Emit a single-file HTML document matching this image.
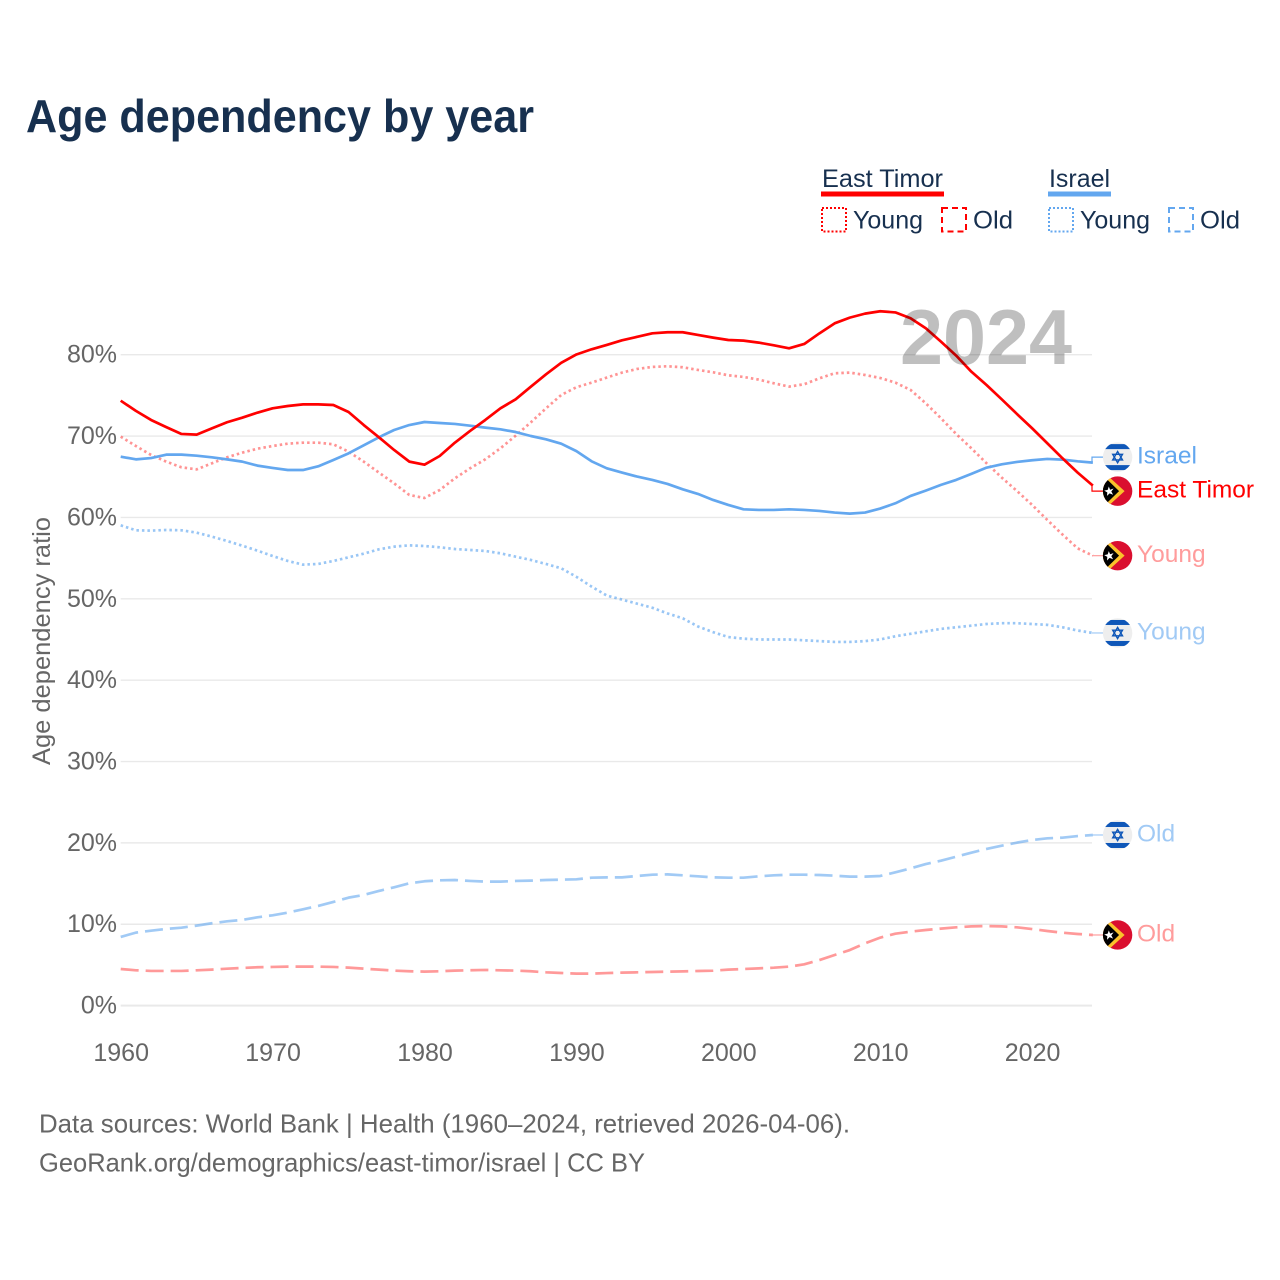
<!DOCTYPE html>
<html lang="en">
<head>
<meta charset="utf-8">
<title>Age dependency by year</title>
<style>
html,body{margin:0;padding:0;background:#fff;}
svg{display:block;font-family:"Liberation Sans",Arial,sans-serif;}
</style>
</head>
<body>
<svg id="chart" xmlns="http://www.w3.org/2000/svg" width="1280" height="1280" viewBox="0 0 1280 1280">
  <defs>
    <clipPath id="flag-clip"><circle cx="0" cy="0" r="14.7"/></clipPath>
    <g id="flag-israel" clip-path="url(#flag-clip)">
      <rect x="-15" y="-15" width="30" height="30" fill="#eeeeee"/>
      <rect x="-15" y="-13" width="30" height="5" fill="#0f57b8"/>
      <rect x="-15" y="8" width="30" height="5" fill="#0f57b8"/>
      <path d="M0,-5.6 L4.9,2.8 L-4.9,2.8 Z M0,5.6 L4.9,-2.8 L-4.9,-2.8 Z" fill="none" stroke="#0f57b8" stroke-width="1.4"/>
    </g>
    <g id="flag-timor" clip-path="url(#flag-clip)">
      <rect x="-15" y="-15" width="30" height="30" fill="#da0f2f"/>
      <polygon points="-16,-21 7,0 -16,21" fill="#fac22b"/>
      <polygon points="-16,-17 1.5,0 -16,17" fill="#000000"/>
      <polygon points="-8.8,-4.6 -7.5,-1.4 -4,-2.6 -6.3,0.4 -4.5,3.6 -8,2.2 -10.6,4.8 -10.3,1.2 -13.4,-0.5 -9.9,-1.3" fill="#ffffff"/>
    </g>
  </defs>

  <text x="26" y="132" font-size="46" font-weight="700" fill="#17304f" textLength="508" lengthAdjust="spacingAndGlyphs">Age dependency by year</text>

  <g fill="#17304f" font-size="25">
    <text x="822" y="187" textLength="121" lengthAdjust="spacingAndGlyphs">East Timor</text>
    <rect x="821" y="191.5" width="123" height="5" fill="#ff0000"/>
    <rect x="822" y="208" width="24" height="23.5" fill="none" stroke="#ff0000" stroke-width="2" stroke-dasharray="2 2"/>
    <text x="853" y="228.5" textLength="70" lengthAdjust="spacingAndGlyphs">Young</text>
    <rect x="942" y="208" width="24" height="23.5" fill="none" stroke="#ff0000" stroke-width="2" stroke-dasharray="6 4"/>
    <text x="973" y="228.5" textLength="40" lengthAdjust="spacingAndGlyphs">Old</text>
    <text x="1049" y="187" textLength="61" lengthAdjust="spacingAndGlyphs">Israel</text>
    <rect x="1048" y="191.5" width="63" height="5" fill="#63a7ef"/>
    <rect x="1049" y="208" width="24" height="23.5" fill="none" stroke="#63a7ef" stroke-width="2" stroke-dasharray="2 2"/>
    <text x="1080" y="228.5" textLength="70" lengthAdjust="spacingAndGlyphs">Young</text>
    <rect x="1169" y="208" width="24" height="23.5" fill="none" stroke="#63a7ef" stroke-width="2" stroke-dasharray="6 4"/>
    <text x="1200" y="228.5" textLength="40" lengthAdjust="spacingAndGlyphs">Old</text>
  </g>

  <g id="grid"></g>
  <g id="yticks"></g>
  <g id="xticks"></g>
  <text transform="translate(50,765) rotate(-90)" font-size="25" fill="#666666" textLength="248" lengthAdjust="spacingAndGlyphs">Age dependency ratio</text>
  <g id="lines"></g>
  <text x="900" y="364" font-size="78" font-weight="700" fill="#000000" fill-opacity="0.25" textLength="172" lengthAdjust="spacingAndGlyphs">2024</text>
  <g id="labels"></g>

  <text x="39" y="1132.5" font-size="26" fill="#666666" textLength="811" lengthAdjust="spacingAndGlyphs">Data sources: World Bank | Health (1960–2024, retrieved 2026-04-06).</text>
  <text x="39" y="1171.5" font-size="26" fill="#666666" textLength="606" lengthAdjust="spacingAndGlyphs">GeoRank.org/demographics/east-timor/israel | CC BY</text>
</svg>

<script>
const years = [1960,1961,1962,1963,1964,1965,1966,1967,1968,1969,1970,1971,1972,1973,1974,1975,1976,1977,1978,1979,1980,1981,1982,1983,1984,1985,1986,1987,1988,1989,1990,1991,1992,1993,1994,1995,1996,1997,1998,1999,2000,2001,2002,2003,2004,2005,2006,2007,2008,2009,2010,2011,2012,2013,2014,2015,2016,2017,2018,2019,2020,2021,2022,2023,2024];
const xTickLabels = [1960,1970,1980,1990,2000,2010,2020];
const yTickLabels = [0,10,20,30,40,50,60,70,80];

const timorTotal = [74.35,73.1,71.98,71.1,70.26,70.18,70.95,71.7,72.26,72.88,73.41,73.7,73.9,73.9,73.82,72.96,71.36,69.85,68.29,66.86,66.49,67.55,69.19,70.63,71.98,73.41,74.52,76.07,77.59,79.0,80.03,80.67,81.2,81.77,82.2,82.63,82.76,82.76,82.43,82.1,81.81,81.73,81.49,81.16,80.79,81.32,82.63,83.86,84.56,85.05,85.34,85.2,84.48,83.25,81.61,79.89,77.92,76.28,74.52,72.72,70.96,69.12,67.27,65.51,63.91];
const timorYoung = [69.93,68.78,67.68,66.86,66.16,65.91,66.65,67.39,67.96,68.45,68.78,69.07,69.19,69.19,68.99,68.09,66.86,65.51,64.19,62.76,62.39,63.37,64.81,66.04,67.14,68.5,70.05,71.69,73.41,75.05,76.0,76.57,77.19,77.8,78.25,78.5,78.58,78.46,78.13,77.84,77.47,77.27,76.94,76.49,76.08,76.37,77.1,77.72,77.8,77.51,77.14,76.57,75.67,74.03,72.19,70.26,68.5,66.66,64.9,63.26,61.54,59.69,57.9,56.2,55.3];
const timorOld = [4.5,4.34,4.26,4.26,4.26,4.34,4.42,4.54,4.63,4.71,4.75,4.79,4.79,4.79,4.75,4.67,4.54,4.42,4.3,4.22,4.18,4.22,4.3,4.34,4.38,4.34,4.3,4.22,4.09,4.01,3.93,3.93,4.0,4.05,4.09,4.13,4.17,4.21,4.25,4.29,4.42,4.5,4.58,4.66,4.79,5.07,5.6,6.22,6.83,7.65,8.35,8.84,9.09,9.29,9.46,9.62,9.74,9.78,9.74,9.62,9.41,9.17,8.96,8.8,8.68];
const israelTotal = [67.47,67.14,67.3,67.72,67.72,67.59,67.39,67.14,66.86,66.37,66.08,65.83,65.83,66.28,67.06,67.88,68.86,69.85,70.75,71.36,71.73,71.61,71.49,71.28,71.04,70.83,70.5,70.01,69.6,69.07,68.15,66.9,66.04,65.51,65.02,64.61,64.12,63.46,62.89,62.15,61.54,61.0,60.92,60.92,61.0,60.92,60.8,60.6,60.47,60.6,61.09,61.74,62.64,63.3,64.0,64.61,65.35,66.12,66.53,66.82,67.03,67.19,67.11,66.9,66.74];
const israelYoung = [59.03,58.42,58.38,58.46,58.42,58.13,57.64,57.11,56.53,55.92,55.26,54.65,54.2,54.28,54.65,55.1,55.55,56.08,56.41,56.57,56.49,56.33,56.12,56.0,55.88,55.59,55.18,54.77,54.28,53.75,52.7,51.5,50.4,49.9,49.4,48.9,48.2,47.6,46.6,45.9,45.3,45.1,45.0,45.0,45.0,44.9,44.8,44.7,44.7,44.8,45.0,45.4,45.7,46.0,46.3,46.5,46.7,46.9,47.0,47.0,46.9,46.8,46.5,46.1,45.8];
const israelOld = [8.44,8.97,9.21,9.42,9.58,9.83,10.12,10.36,10.53,10.85,11.1,11.43,11.84,12.25,12.74,13.27,13.6,14.09,14.54,15.03,15.28,15.4,15.44,15.32,15.24,15.24,15.32,15.36,15.44,15.48,15.52,15.72,15.76,15.76,15.93,16.09,16.13,16.01,15.89,15.76,15.72,15.72,15.89,16.01,16.09,16.09,16.05,15.97,15.85,15.85,15.93,16.38,16.87,17.4,17.81,18.3,18.8,19.25,19.66,20.03,20.35,20.56,20.64,20.84,20.97];

const NS = 'http://www.w3.org/2000/svg';
const X0 = 120.7, XSCALE = 15.19, Y0 = 1005.6, YSCALE = 8.136;
function xScale(year) { return X0 + (year - years[0]) * XSCALE; }
function yScale(value) { return Y0 - value * YSCALE; }
function make(tag, attrs, parent) {
  const node = document.createElementNS(NS, tag);
  for (const key in attrs) node.setAttribute(key, attrs[key]);
  parent.appendChild(node);
  return node;
}

const gridG = document.getElementById('grid');
const yG = document.getElementById('yticks');
const xG = document.getElementById('xticks');
const linesG = document.getElementById('lines');
const labelsG = document.getElementById('labels');

yTickLabels.forEach(function (v) {
  const line = make('line', { x1: X0, x2: 1092, y1: yScale(v), y2: yScale(v), stroke: '#e9e9e9', 'stroke-width': v === 0 ? 2 : 1.4 }, gridG);
  
  
  const label = make('text', { x: 117, y: yScale(v) + 8, 'text-anchor': 'end', 'font-size': 25, fill: '#666666' }, yG);
  label.textContent = v + '%';
  
  
});

xTickLabels.forEach(function (yr) {
  const label = make('text', { x: xScale(yr) + 0.5, y: 1061, 'text-anchor': 'middle', 'font-size': 25, fill: '#666666' }, xG);
  label.textContent = yr;
  
  
});

const seriesList = [
  { id: 'israel-old', values: israelOld, color: '#63a7ef', opacity: 0.6, dash: '18 7', width: 2.7, flag: 'flag-israel', text: 'Old', textColor: '#a1caf5' },
  { id: 'east-timor-old', values: timorOld, color: '#ff0000', opacity: 0.4, dash: '18 7', width: 2.7, flag: 'flag-timor', text: 'Old', textColor: '#ff9c9c' },
  { id: 'israel-young', values: israelYoung, color: '#63a7ef', opacity: 0.65, dash: '2.5 3', width: 2.7, flag: 'flag-israel', text: 'Young', textColor: '#a1caf5' },
  { id: 'east-timor-young', values: timorYoung, color: '#ff0000', opacity: 0.42, dash: '2.5 3', width: 2.7, flag: 'flag-timor', text: 'Young', textColor: '#ff9c9c' },
  { id: 'israel-total', values: israelTotal, color: '#63a7ef', opacity: 1, dash: '', width: 2.7, flag: 'flag-israel', text: 'Israel', textColor: '#63a7ef' },
  { id: 'east-timor-total', values: timorTotal, color: '#ff0000', opacity: 1, dash: '', width: 2.7, flag: 'flag-timor', text: 'East Timor', textColor: '#ff0000' }
];

seriesList.forEach(function (s) {
  const pts = s.values.map(function (v, i) { return xScale(years[i]).toFixed(2) + ',' + yScale(v).toFixed(2); }).join(' ');
  const line = make('polyline', { points: pts, fill: 'none', stroke: s.color, 'stroke-opacity': s.opacity, 'stroke-width': s.width, 'stroke-linejoin': 'round' }, linesG);
  if (s.dash) line.setAttribute('stroke-dasharray', s.dash);
  
  
});

/* Push end labels apart when they would overlap. */
const MIN_GAP = 34;
const placed = seriesList.map(function (s) {
  const endY = yScale(s.values[s.values.length - 1]);
  return { s: s, endY: endY, y: endY };
}).sort(function (a, b) { return a.endY - b.endY; });
for (let pass = 0; pass < 10; pass++) {
  for (let i = 1; i < placed.length; i++) {
    const gap = placed[i].y - placed[i - 1].y;
    if (gap < MIN_GAP) {
      const shift = (MIN_GAP - gap) / 2;
      placed[i - 1].y -= shift;
      placed[i].y += shift;
    }
  }
}

placed.forEach(function (p) {
  const s = p.s;
  const conn = make('polyline', { points: '1092,' + p.endY + ' 1092,' + p.y + ' 1103,' + p.y, fill: 'none', stroke: s.textColor, 'stroke-width': 1.2 }, labelsG);
  
  
  const flag = make('use', { href: '#' + s.flag, transform: 'translate(1117.6,' + p.y + ')' }, labelsG);
  
  
  const label = make('text', { x: 1137, y: p.y + 6.5, 'font-size': 24.5, fill: s.textColor }, labelsG);
  label.textContent = s.text;
  
  
});
</script>
</body>
</html>
